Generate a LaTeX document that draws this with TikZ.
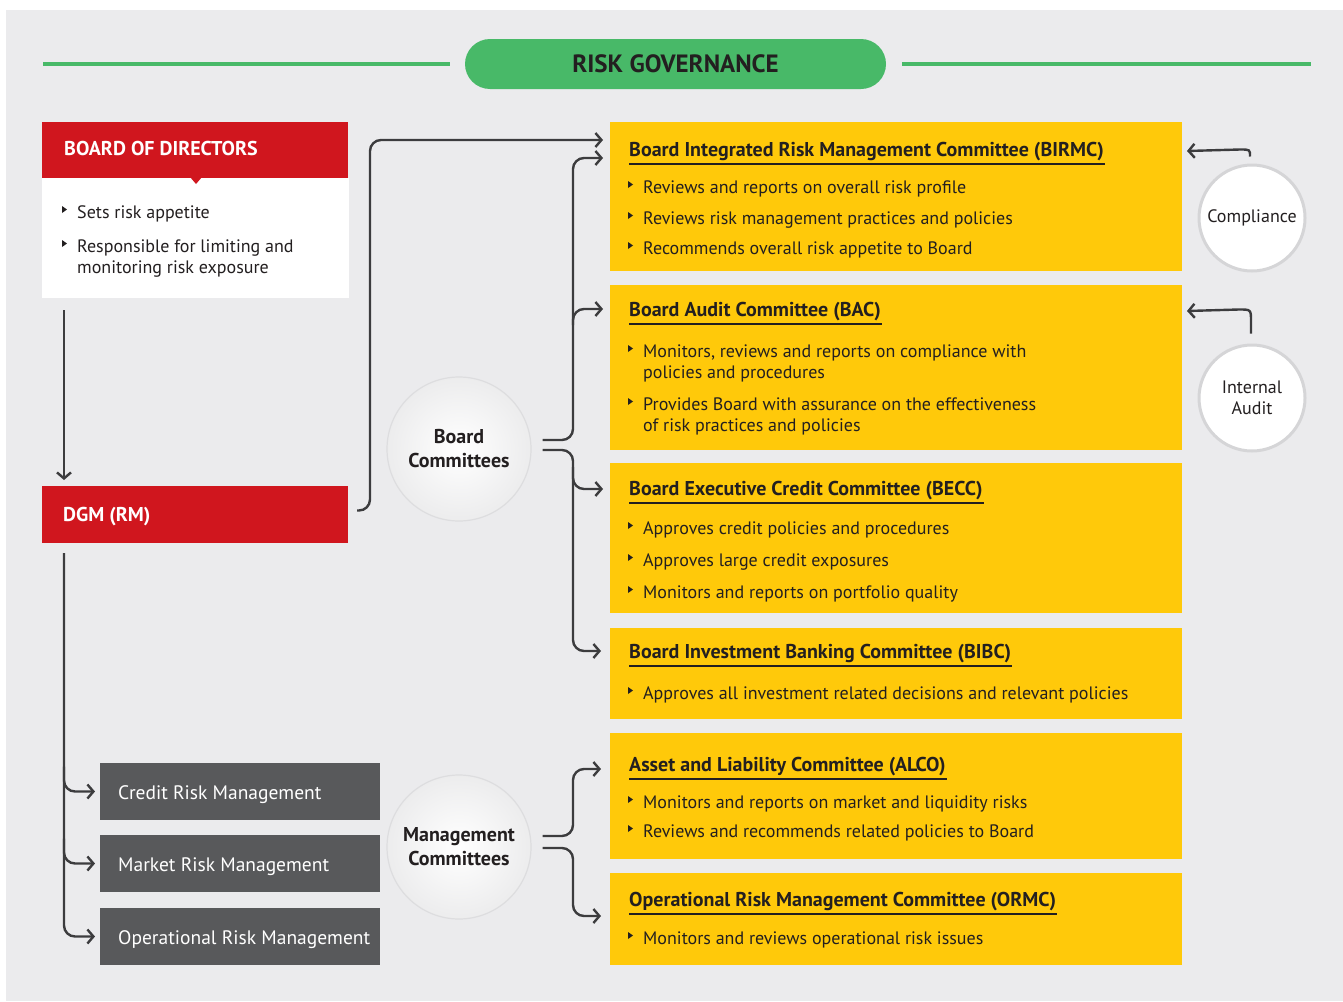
\documentclass[tikz,border=0pt]{standalone}
\usepackage{fontspec}
\setmainfont{PT Sans}
\usetikzlibrary{arrows.meta,calc}
\definecolor{bg}{HTML}{EBEBED}
\definecolor{grn}{HTML}{48B968}
\definecolor{rd}{HTML}{D0161E}
\definecolor{ylw}{HTML}{FFC90A}
\definecolor{gry}{HTML}{58595B}
\definecolor{ink}{HTML}{231F20}
\definecolor{wire}{HTML}{3C3C3E}
\definecolor{ring}{HTML}{D5D5D7}

% bullet item on one line: name, x, baseline y, text
\newcommand\bul[4]{%
  \fill[ink] (#2-15,#3-12) -- (#2-10,#3-8.5) -- (#2-15,#3-5) -- cycle;
  \node[item] (#1) at (#2,#3) {#4};}
% bullet item on two lines: name, x, first baseline y, line 1, line 2
\newcommand\bulii[5]{%
  \fill[ink] (#2-15,#3-12) -- (#2-10,#3-8.5) -- (#2-15,#3-5) -- cycle;
  \node[item] (#1) at (#2,#3+21) {#4\\#5};}
% underlined committee title: name, baseline y, text
\newcommand\ctitle[3]{%
  \node[ttl] (#1) at (629,#2) {#3};
  \draw[ink, line width=2.6] ($(#1.base west)+(0,8)$) -- ($(#1.base east)+(1,8)$);}

\begin{document}
\begin{tikzpicture}[x=1pt,y=-1pt,
  box/.style={anchor=north west, inner sep=0, outer sep=0},
  ybox/.style={box, fill=ylw, minimum width=572},
  redbox/.style={box, fill=rd, minimum width=306, minimum height=57},
  gbox/.style={box, fill=gry, minimum width=280, minimum height=57},
  boxtxt/.style={anchor=base west, inner sep=0, text=white},
  unittxt/.style={boxtxt, font=\fontsize{19.5}{24}\selectfont},
  ttl/.style={anchor=base west, inner sep=0, text=ink, font=\bfseries\fontsize{20}{24}\selectfont},
  item/.style={anchor=base west, inner sep=0, text=ink, align=left, font=\fontsize{18}{21}\selectfont},
  wire/.style={draw=wire, line width=2.4, rounded corners=11},
  arr/.style={wire, -{Straight Barb[length=6pt,width=14pt]}},
  hub/.style={circle, minimum size=144, inner sep=0, draw=ring!80, line width=1.2,
    inner color=white, outer color=ring!45, text=ink, align=center,
    font=\bfseries\fontsize{20}{24}\selectfont},
  side/.style={circle, minimum size=106, inner sep=0, draw=ring, line width=3,
    fill=white, text=ink, align=center, font=\fontsize{18}{21}\selectfont}]

\useasboundingbox (0,0) rectangle (1343,1001);
\fill[white] (0,0) rectangle (1343,1001);
\fill[bg] (6,10) rectangle (1343,1001);

% heading
\draw[grn, line width=4] (43,64) -- (450,64);
\draw[grn, line width=4] (902,64) -- (1311,64);
\node[fill=grn, rounded corners=25, minimum width=421, minimum height=50, inner sep=0,
  text=ink, font=\bfseries\fontsize{25}{28}\selectfont] (head) at (675.5,64) {RISK GOVERNANCE};

% board of directors
\node[redbox, minimum height=56] (bodh) at (42,122) {};
\node[box, fill=white, minimum width=307, minimum height=120] (bod) at (42,178) {};
\fill[rd] (190,177) -- (202,177) -- (196,184) -- cycle;
\node[boxtxt, font=\bfseries\fontsize{20}{24}\selectfont] (bodt) at (64,155) {BOARD OF DIRECTORS};
\bul{bod1}{77}{218}{Sets risk appetite}
\bulii{bod2}{77}{252}{Responsible for limiting and}{monitoring risk exposure}

% DGM
\node[redbox] (dgm) at (42,486) {};
\node[boxtxt, font=\bfseries\fontsize{20}{24}\selectfont] (dgmt) at (63,521) {DGM (RM)};

% risk management units
\node[gbox] (crm) at (100,763) {};
\node[gbox] (mrm) at (100,835) {};
\node[gbox] (orm) at (100,908) {};
\node[unittxt] (crmt) at (118,799) {Credit Risk Management};
\node[unittxt] (mrmt) at (118,871) {Market Risk Management};
\node[unittxt] (ormt) at (118,944) {Operational Risk Management};

% hubs
\node[hub] (bc) at (459,449) {Board\\Committees};
\node[hub] (mc) at (459,847) {Management\\Committees};

% committees
\node[ybox, minimum height=149] (birmc) at (610,122) {};
\ctitle{birmct}{156}{Board Integrated Risk Management Committee (BIRMC)}
\bul{b1}{643}{193}{Reviews and reports on overall risk profile}
\bul{b2}{643}{224}{Reviews risk management practices and policies}
\bul{b3}{643}{254}{Recommends overall risk appetite to Board}

\node[ybox, minimum height=165] (bac) at (610,285) {};
\ctitle{bact}{316}{Board Audit Committee (BAC)}
\bulii{a1}{643}{357}{Monitors, reviews and reports on compliance with}{policies and procedures}
\bulii{a2}{643}{410}{Provides Board with assurance on the effectiveness}{of risk practices and policies}

\node[ybox, minimum height=150] (becc) at (610,463) {};
\ctitle{becct}{495}{Board Executive Credit Committee (BECC)}
\bul{e1}{643}{534}{Approves credit policies and procedures}
\bul{e2}{643}{566}{Approves large credit exposures}
\bul{e3}{643}{598}{Monitors and reports on portfolio quality}

\node[ybox, minimum height=91] (bibc) at (610,628) {};
\ctitle{bibct}{658}{Board Investment Banking Committee (BIBC)}
\bul{i1}{643}{699}{Approves all investment related decisions and relevant policies}

\node[ybox, minimum height=126] (alco) at (610,733) {};
\ctitle{alcot}{771}{Asset and Liability Committee (ALCO)}
\bul{l1}{643}{808}{Monitors and reports on market and liquidity risks}
\bul{l2}{643}{837}{Reviews and recommends related policies to Board}

\node[ybox, minimum height=92] (ormc) at (610,873) {};
\ctitle{ormct}{906}{Operational Risk Management Committee (ORMC)}
\bul{o1}{643}{944}{Monitors and reviews operational risk issues}

% oversight functions
\node[side] (comp) at (1252,218) {Compliance};
\node[side] (ia) at (1252,398) {Internal\\Audit};

% connectors
\draw[arr] ($(bod.south west)+(22,12)$) -- ($(dgm.north west)+(22,-6)$);
\draw[arr] ($(dgm.east)+(9,-4)$) -| ($(dgm.east |- birmc.north)+(22,18)$) -- ($(birmc.north west)+(-7,18)$);

\coordinate (bcu) at ($(bc.east)+(11,-9)$);
\coordinate (bcd) at ($(bc.east)+(11,1)$);
\draw[arr] (bcu) -| ($(birmc.north west)+(-37,36)$) -- ($(birmc.north west)+(-7,36)$);
\draw[arr] ($(bac.north west)+(-37,40)$) |- ($(bac.north west)+(-7,24)$);
\draw[arr] (bcd) -| ($(bibc.north west)+(-37,23)$) -- ($(bibc.north west)+(-9,23)$);
\draw[arr] ($(becc.north west)+(-37,4)$) |- ($(becc.north west)+(-7,26)$);

\draw[arr] ($(mc.east)+(11,-11)$) -| ($(alco.north west)+(-37,36)$) -- ($(alco.north west)+(-9,36)$);
\draw[arr] ($(mc.east)+(11,1)$) -| ($(ormc.north west)+(-37,43)$) -- ($(ormc.north west)+(-9,43)$);

\draw[arr] ($(dgm.south west)+(22,10)$) |- ($(orm.west)+(-5,0)$);
\draw[arr] ($(crm.west)+(-36,-25)$) |- ($(crm.west)+(-5,0)$);
\draw[arr] ($(mrm.west)+(-36,-25)$) |- ($(mrm.west)+(-5,0)$);

\draw[draw=wire, line width=2.4, -{Straight Barb[length=6pt,width=14pt]}]
  ($(comp.north)+(-2,-7)$) .. controls ($(comp.north)+(-2,-14)$) .. ($(comp.north)+(-12,-14)$)
  -- ($(birmc.north east)+(5,29)$);
\draw[draw=wire, line width=2.4, -{Straight Barb[length=6pt,width=14pt]}]
  ($(ia.north)+(-1,-10)$) -- ($(ia.north)+(-1,-22)$) .. controls ($(ia.north)+(-1,-34)$) .. ($(ia.north)+(-13,-34)$)
  -- ($(bac.north east)+(5,26)$);

\end{tikzpicture}
\end{document}
